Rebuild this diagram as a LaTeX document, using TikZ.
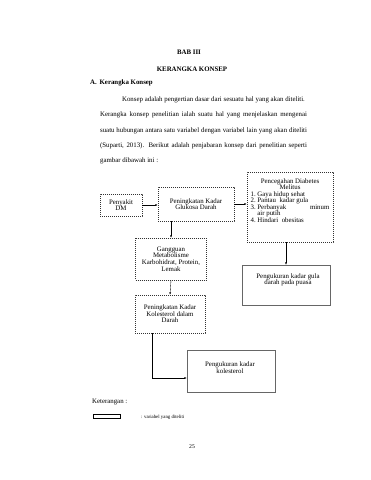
\documentclass[tikz,border=0pt]{standalone}
\usepackage{fontspec}
\setmainfont{Liberation Serif}
\usetikzlibrary{arrows.meta, positioning, calc}
\tikzset{
  var/.style={rectangle, draw=black!60, line width=0.9pt, align=center,
              font=\fontsize{12}{11.4}\selectfont, inner sep=2pt},
  konsep/.style={var, draw=black!80, line width=1pt, dash pattern=on 1.75pt off 1.75pt},
  isi/.style={align=center, font=\fontsize{12}{11.4}\selectfont, inner sep=0pt},
  arr/.style={-{Latex[length=4pt,width=3.2pt]}, line width=0.6pt},
  judul/.style={font=\bfseries\fontsize{12}{14}\selectfont},
}

\begin{document}
\begin{tikzpicture}[x=1.75pt, y=-1.75pt]
  \useasboundingbox[fill=white] (0,0) rectangle (371,480);

  % judul bab
  \node[judul] (bab) at (189,52) {BAB III};
  \node[judul] (judul) at (192,69) {KERANGKA KONSEP};
  \node[judul, anchor=west, inner sep=0pt] (subbab) at (90,83) {A.\hspace{5pt}Kerangka Konsep};

  % paragraf
  \node[anchor=base west, inner sep=0pt, text width=362pt, align=justify,
        font=\fontsize{12}{26.8}\selectfont] (paragraf) at (100,101.5)
    {\hspace*{38.5pt}Konsep adalah pengertian dasar dari sesuatu hal yang akan diteliti.\\
     Kerangka konsep penelitian ialah suatu hal yang menjelaskan mengenai\linebreak
     suatu hubungan antara satu variabel dengan variabel lain yang akan diteliti\linebreak
     (Suparti, 2013). Berikut adalah penjabaran konsep dari penelitian seperti\linebreak
     gambar dibawah ini :};

  % kotak konsep
  \node[konsep, minimum width=73.5pt, minimum height=38.5pt] (dm) at (121,205) {Penyakit\\DM};
  \node[konsep, minimum width=133pt, minimum height=59.5pt] (glukosa) at (196,204) {Peningkatan Kadar\\Glukosa Darah};
  \node[konsep, minimum width=150.5pt, minimum height=122.5pt] (cegah) at (290,207) {};
  \node[isi] (cegah-teks) at (290,200.5) {Pencegahan Diabetes\\Melitus\\
    \makebox[138pt][l]{\makebox[12pt][l]{1.}Gaya hidup sehat}\\
    \makebox[138pt][l]{\makebox[12pt][l]{2.}Pantau\hspace{6pt}kadar gula}\\
    \makebox[138pt][l]{\makebox[12pt][l]{3.}\makebox[126pt][s]{Perbanyak\hfill minum}}\\
    \makebox[138pt][l]{\hspace*{12pt}air putih}\\
    \makebox[138pt][l]{\makebox[12pt][l]{4.}Hindari\hspace{6pt}obesitas}};
  \node[var, minimum width=154pt, minimum height=70pt] (gula) at (286,285) {};
  \node[isi] (gula-teks) at (288,280) {Pengukuran kadar gula\\darah pada puasa};
  \node[konsep, minimum width=124pt, minimum height=73.5pt] (gangguan) at (171,259) {Gangguan\\Metabolisme\\Karbohidrat, Protein,\\Lemak};
  \node[konsep, minimum width=122.5pt, minimum height=66.5pt] (kolesterol) at (170,314) {Peningkatan Kadar\\Kolesterol dalam\\Darah};
  \node[var, minimum width=154pt, minimum height=73.5pt] (ukurkol) at (231,371) {};
  \node[isi] (ukurkol-teks) at (230,367.5) {Pengukuran kadar\\kolesterol};

  % panah
  \draw[arr] (dm.east) -- (dm.east -| glukosa.west);
  \draw[arr] (glukosa.east) -- (glukosa.east -| cegah.west);
  \draw[arr] (glukosa.south -| gangguan.north) -- (gangguan.north);
  \draw[arr] (gangguan.south) -- (kolesterol.north);
  \draw[arr] (cegah.south -| gula.north) -- (gula.north);
  \coordinate (belok) at ($(ukurkol.west)+(0,7)$);
  \draw[arr] ([xshift=-31.5pt]kolesterol.south) |- (belok);

  % keterangan
  \node[anchor=west, inner sep=0pt, font=\fontsize{12}{14}\selectfont] (ket) at (92,402) {Keterangan :};
  \node[var, draw=black, line width=1.3pt, minimum width=47pt, minimum height=7pt, inner sep=0pt] (legenda) at (106.5,416) {};
  \node[anchor=west, inner sep=0pt, font=\fontsize{8.5}{10}\selectfont] (ket-var) at (141,417) {: variabel yang diteliti};

  \node[font=\fontsize{10}{12}\selectfont] (halaman) at (192,447) {25};
\end{tikzpicture}
\end{document}
